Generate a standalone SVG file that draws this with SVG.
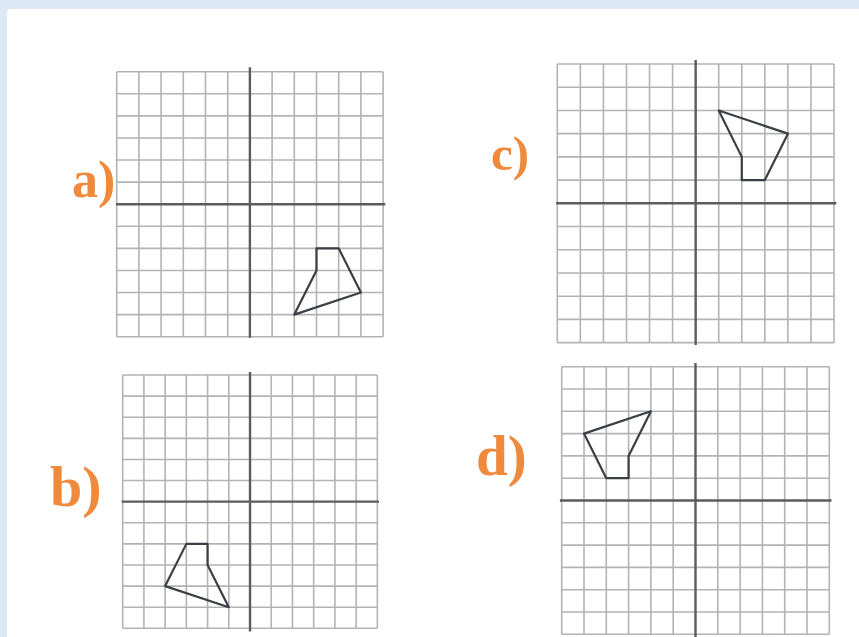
<svg xmlns="http://www.w3.org/2000/svg" width="859" height="637" viewBox="0 0 859 637">
<style>
.gl{fill:none;stroke:#b3b3b3;stroke-width:1.6;vector-effect:non-scaling-stroke}
.ax{fill:none;stroke:#5c5c5c;stroke-width:2.4;vector-effect:non-scaling-stroke}
.sh{fill:none;stroke:#3a3f45;stroke-width:2.2;stroke-linejoin:round;vector-effect:non-scaling-stroke}
.lb{font-family:"Liberation Serif","Times New Roman",serif;font-weight:bold;fill:#ef8a3c}
</style>
<rect x="0" y="0" width="859" height="637" fill="#dce8f5"/>
<rect x="7" y="9" width="860" height="640" rx="4" fill="#ffffff"/>
<g id="grid-a" transform="translate(116.7 71.7) scale(22.2 22.083)">
<path class="gl" d="M0 0V12M1 0V12M2 0V12M3 0V12M4 0V12M5 0V12M7 0V12M8 0V12M9 0V12M10 0V12M11 0V12M12 0V12M0 0H12M0 1H12M0 2H12M0 3H12M0 4H12M0 5H12M0 7H12M0 8H12M0 9H12M0 10H12M0 11H12M0 12H12"/>
<path class="ax" d="M6 -0.2V12.05M-0.03 6H12.1"/>
<polygon class="sh" points="9,8 10,8 11,10 8,11 9,9"/>
</g>
<g id="grid-c" transform="translate(557.3 64) scale(23.06 23.22)">
<path class="gl" d="M0 0V12M1 0V12M2 0V12M3 0V12M4 0V12M5 0V12M7 0V12M8 0V12M9 0V12M10 0V12M11 0V12M12 0V12M0 0H12M0 1H12M0 2H12M0 3H12M0 4H12M0 5H12M0 7H12M0 8H12M0 9H12M0 10H12M0 11H12M0 12H12"/>
<path class="ax" d="M6 -0.17V12.1M-0.05 6H12.1"/>
<polygon class="sh" points="7,2 10,3 9,5 8,5 8,4"/>
</g>
<g id="grid-b" transform="translate(122.7 375) scale(21.22 21.11)">
<path class="gl" d="M0 0V12M1 0V12M2 0V12M3 0V12M4 0V12M5 0V12M7 0V12M8 0V12M9 0V12M10 0V12M11 0V12M12 0V12M0 0H12M0 1H12M0 2H12M0 3H12M0 4H12M0 5H12M0 7H12M0 8H12M0 9H12M0 10H12M0 11H12M0 12H12"/>
<path class="ax" d="M6 -0.14V12.15M-0.05 6H12.08"/>
<polygon class="sh" points="3,8 4,8 4,9 5,11 2,10"/>
</g>
<g id="grid-d" transform="translate(561.7 366.7) scale(22.3 22.3)">
<path class="gl" d="M0 0V12M1 0V12M2 0V12M3 0V12M4 0V12M5 0V12M7 0V12M8 0V12M9 0V12M10 0V12M11 0V12M12 0V12M0 0H12M0 1H12M0 2H12M0 3H12M0 4H12M0 5H12M0 7H12M0 8H12M0 9H12M0 10H12M0 11H12M0 12H12"/>
<path class="ax" d="M6 -0.17V12.3M-0.08 6H12.1"/>
<polygon class="sh" points="4,2 3,4 3,5 2,5 1,3"/>
</g>
<g id="labels">
<text class="lb" x="72" y="197" font-size="52">a)</text>
<text class="lb" x="491" y="170" font-size="49">c)</text>
<text class="lb" x="50" y="506" font-size="58">b)</text>
<text class="lb" x="476" y="475" font-size="57">d)</text>
</g>
</svg>
